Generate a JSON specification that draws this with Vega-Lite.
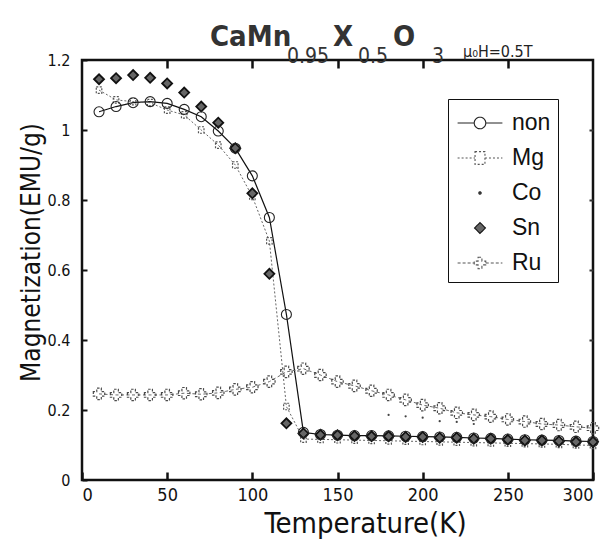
{
  "$schema": "https://vega.github.io/schema/vega-lite/v6.json",
  "width": 511,
  "height": 420,
  "autosize": {"type": "none"},
  "padding": {"left": 82, "top": 60, "right": 13, "bottom": 64},
  "background": "white",
  "config": {"view": {"stroke": "#111", "strokeWidth": 2.5}, "font": "DejaVu Sans Condensed, Liberation Sans, sans-serif"},
  "data": {"values": [
    {"series": "non", "T": 10, "M": 1.052}, {"series": "non", "T": 20, "M": 1.067}, {"series": "non", "T": 30, "M": 1.078}, {"series": "non", "T": 40, "M": 1.081}, {"series": "non", "T": 50, "M": 1.076}, {"series": "non", "T": 60, "M": 1.059}, {"series": "non", "T": 70, "M": 1.038}, {"series": "non", "T": 80, "M": 0.997}, {"series": "non", "T": 90, "M": 0.948}, {"series": "non", "T": 100, "M": 0.869}, {"series": "non", "T": 110, "M": 0.750}, {"series": "non", "T": 120, "M": 0.473}, {"series": "non", "T": 130, "M": 0.136}, {"series": "non", "T": 140, "M": 0.130}, {"series": "non", "T": 150, "M": 0.128}, {"series": "non", "T": 160, "M": 0.127}, {"series": "non", "T": 170, "M": 0.127}, {"series": "non", "T": 180, "M": 0.126}, {"series": "non", "T": 190, "M": 0.125}, {"series": "non", "T": 200, "M": 0.124}, {"series": "non", "T": 210, "M": 0.123}, {"series": "non", "T": 220, "M": 0.122}, {"series": "non", "T": 230, "M": 0.120}, {"series": "non", "T": 240, "M": 0.119}, {"series": "non", "T": 250, "M": 0.117}, {"series": "non", "T": 260, "M": 0.115}, {"series": "non", "T": 270, "M": 0.114}, {"series": "non", "T": 280, "M": 0.113}, {"series": "non", "T": 290, "M": 0.111}, {"series": "non", "T": 300, "M": 0.110},
    {"series": "Mg", "T": 10, "M": 1.114}, {"series": "Mg", "T": 20, "M": 1.086}, {"series": "Mg", "T": 30, "M": 1.081}, {"series": "Mg", "T": 40, "M": 1.078}, {"series": "Mg", "T": 50, "M": 1.057}, {"series": "Mg", "T": 60, "M": 1.043}, {"series": "Mg", "T": 70, "M": 1.000}, {"series": "Mg", "T": 80, "M": 0.957}, {"series": "Mg", "T": 90, "M": 0.900}, {"series": "Mg", "T": 100, "M": 0.810}, {"series": "Mg", "T": 110, "M": 0.683}, {"series": "Mg", "T": 120, "M": 0.210}, {"series": "Mg", "T": 130, "M": 0.117}, {"series": "Mg", "T": 140, "M": 0.116}, {"series": "Mg", "T": 150, "M": 0.115}, {"series": "Mg", "T": 160, "M": 0.114}, {"series": "Mg", "T": 170, "M": 0.113}, {"series": "Mg", "T": 180, "M": 0.112}, {"series": "Mg", "T": 190, "M": 0.111}, {"series": "Mg", "T": 200, "M": 0.110}, {"series": "Mg", "T": 210, "M": 0.109}, {"series": "Mg", "T": 220, "M": 0.108}, {"series": "Mg", "T": 230, "M": 0.107}, {"series": "Mg", "T": 240, "M": 0.106}, {"series": "Mg", "T": 250, "M": 0.105}, {"series": "Mg", "T": 260, "M": 0.104}, {"series": "Mg", "T": 270, "M": 0.103}, {"series": "Mg", "T": 280, "M": 0.102}, {"series": "Mg", "T": 290, "M": 0.100}, {"series": "Mg", "T": 300, "M": 0.099},
    {"series": "Co", "T": 180, "M": 0.186}, {"series": "Co", "T": 190, "M": 0.182}, {"series": "Co", "T": 200, "M": 0.178}, {"series": "Co", "T": 210, "M": 0.168}, {"series": "Co", "T": 220, "M": 0.166}, {"series": "Co", "T": 230, "M": 0.160},
    {"series": "Sn", "T": 10, "M": 1.145}, {"series": "Sn", "T": 20, "M": 1.148}, {"series": "Sn", "T": 30, "M": 1.157}, {"series": "Sn", "T": 40, "M": 1.149}, {"series": "Sn", "T": 50, "M": 1.133}, {"series": "Sn", "T": 60, "M": 1.107}, {"series": "Sn", "T": 70, "M": 1.067}, {"series": "Sn", "T": 80, "M": 1.021}, {"series": "Sn", "T": 90, "M": 0.948}, {"series": "Sn", "T": 100, "M": 0.819}, {"series": "Sn", "T": 110, "M": 0.589}, {"series": "Sn", "T": 120, "M": 0.162}, {"series": "Sn", "T": 130, "M": 0.133}, {"series": "Sn", "T": 140, "M": 0.129}, {"series": "Sn", "T": 150, "M": 0.128}, {"series": "Sn", "T": 160, "M": 0.126}, {"series": "Sn", "T": 170, "M": 0.125}, {"series": "Sn", "T": 180, "M": 0.125}, {"series": "Sn", "T": 190, "M": 0.123}, {"series": "Sn", "T": 200, "M": 0.123}, {"series": "Sn", "T": 210, "M": 0.121}, {"series": "Sn", "T": 220, "M": 0.121}, {"series": "Sn", "T": 230, "M": 0.118}, {"series": "Sn", "T": 240, "M": 0.118}, {"series": "Sn", "T": 250, "M": 0.115}, {"series": "Sn", "T": 260, "M": 0.113}, {"series": "Sn", "T": 270, "M": 0.113}, {"series": "Sn", "T": 280, "M": 0.111}, {"series": "Sn", "T": 290, "M": 0.109}, {"series": "Sn", "T": 300, "M": 0.109},
    {"series": "Ru", "T": 10, "M": 0.246}, {"series": "Ru", "T": 20, "M": 0.243}, {"series": "Ru", "T": 30, "M": 0.243}, {"series": "Ru", "T": 40, "M": 0.243}, {"series": "Ru", "T": 50, "M": 0.243}, {"series": "Ru", "T": 60, "M": 0.248}, {"series": "Ru", "T": 70, "M": 0.245}, {"series": "Ru", "T": 80, "M": 0.249}, {"series": "Ru", "T": 90, "M": 0.259}, {"series": "Ru", "T": 100, "M": 0.265}, {"series": "Ru", "T": 110, "M": 0.281}, {"series": "Ru", "T": 120, "M": 0.309}, {"series": "Ru", "T": 130, "M": 0.318}, {"series": "Ru", "T": 140, "M": 0.300}, {"series": "Ru", "T": 150, "M": 0.281}, {"series": "Ru", "T": 160, "M": 0.269}, {"series": "Ru", "T": 170, "M": 0.255}, {"series": "Ru", "T": 180, "M": 0.243}, {"series": "Ru", "T": 190, "M": 0.229}, {"series": "Ru", "T": 200, "M": 0.214}, {"series": "Ru", "T": 210, "M": 0.205}, {"series": "Ru", "T": 220, "M": 0.192}, {"series": "Ru", "T": 230, "M": 0.186}, {"series": "Ru", "T": 240, "M": 0.181}, {"series": "Ru", "T": 250, "M": 0.173}, {"series": "Ru", "T": 260, "M": 0.167}, {"series": "Ru", "T": 270, "M": 0.160}, {"series": "Ru", "T": 280, "M": 0.157}, {"series": "Ru", "T": 290, "M": 0.152}, {"series": "Ru", "T": 300, "M": 0.148}
  ]},
  "layer": [
    {
      "transform": [{"filter": "datum.series === 'non'"}],
      "mark": {"type": "line", "stroke": "#111", "strokeWidth": 1.2},
      "encoding": {
        "x": {"field": "T", "type": "quantitative", "scale": {"domain": [0, 300], "nice": false},
          "axis": {"values": [0, 50, 100, 150, 200, 250, 300], "domain": false, "grid": false, "tickSize": -8, "tickWidth": 2.5, "tickColor": "#111", "labelPadding": 14, "labelFontSize": 18, "labelColor": "#111", "labelFont": "DejaVu Sans Condensed, Liberation Sans, sans-serif", "title": "Temperature(K)", "titleFont": "DejaVu Sans Condensed, Liberation Sans, sans-serif", "titleFontSize": 29, "titleFontWeight": "normal", "titlePadding": 5, "titleColor": "#111", "titleX": 283}},
        "y": {"field": "M", "type": "quantitative", "scale": {"domain": [0, 1.2], "nice": false},
          "axis": {"values": [0, 0.2, 0.4, 0.6, 0.8, 1, 1.2], "format": ".1~f", "domain": false, "grid": false, "tickSize": -5, "tickWidth": 2, "tickColor": "#111", "labelPadding": 17, "labelFontSize": 16, "labelColor": "#111", "labelFont": "DejaVu Sans Condensed, Liberation Sans, sans-serif", "title": "Magnetization(EMU/g)", "titleFont": "DejaVu Sans Condensed, Liberation Sans, sans-serif", "titleFontSize": 26, "titleFontWeight": "normal", "titleColor": "#111", "titleBaseline": "middle", "titleX": -51, "titleY": 192}}
      }
    },
    {
      "mark": {"type": "point", "opacity": 0},
      "encoding": {
        "x": {"field": "T", "type": "quantitative", "scale": {"domain": [0, 300], "nice": false},
          "axis": {"orient": "top", "values": [50, 100, 150, 200, 250], "labels": false, "title": null, "domain": false, "grid": false, "tickSize": -8, "tickWidth": 2.5, "tickColor": "#111"}},
        "y": {"field": "M", "type": "quantitative", "scale": {"domain": [0, 1.2], "nice": false},
          "axis": {"orient": "right", "values": [0.2, 0.4, 0.6, 0.8, 1], "labels": false, "title": null, "domain": false, "grid": false, "tickSize": -4, "tickWidth": 2, "tickColor": "#333"}}
      }
    },
    {
      "transform": [{"filter": "datum.series === 'Mg'"}],
      "mark": {"type": "line", "stroke": "#666", "strokeWidth": 1, "strokeDash": [2, 2]},
      "encoding": {
        "x": {"field": "T", "type": "quantitative", "scale": {"domain": [0, 300], "nice": false}, "axis": null},
        "y": {"field": "M", "type": "quantitative", "scale": {"domain": [0, 1.2], "nice": false}, "axis": null}
      }
    },
    {
      "transform": [{"filter": "datum.series === 'Ru'"}],
      "mark": {"type": "line", "stroke": "#666", "strokeWidth": 1, "strokeDash": [3, 2.5]},
      "encoding": {
        "x": {"field": "T", "type": "quantitative", "scale": {"domain": [0, 300], "nice": false}, "axis": null},
        "y": {"field": "M", "type": "quantitative", "scale": {"domain": [0, 1.2], "nice": false}, "axis": null}
      }
    },
    {
      "transform": [{"filter": "datum.series === 'Co'"}],
      "mark": {"type": "point", "shape": "circle", "filled": true, "size": 5, "color": "#444", "opacity": 1},
      "encoding": {
        "x": {"field": "T", "type": "quantitative", "scale": {"domain": [0, 300], "nice": false}, "axis": null},
        "y": {"field": "M", "type": "quantitative", "scale": {"domain": [0, 1.2], "nice": false}, "axis": null}
      }
    },
    {
      "transform": [{"filter": "datum.series === 'Mg'"}],
      "mark": {"type": "point", "shape": "M-0.85,-1L0.85,-1L0.85,1L-0.85,1Z", "filled": false, "size": 42, "stroke": "#555", "strokeWidth": 1.2, "strokeDash": [2, 1.5], "opacity": 1},
      "encoding": {
        "x": {"field": "T", "type": "quantitative", "scale": {"domain": [0, 300], "nice": false}, "axis": null},
        "y": {"field": "M", "type": "quantitative", "scale": {"domain": [0, 1.2], "nice": false}, "axis": null}
      }
    },
    {
      "transform": [{"filter": "datum.series === 'Ru'"}],
      "mark": {"type": "point", "shape": "cross", "filled": false, "size": 130, "stroke": "#4a4a4a", "strokeWidth": 1.2, "strokeDash": [2.5, 1.5], "opacity": 1},
      "encoding": {
        "x": {"field": "T", "type": "quantitative", "scale": {"domain": [0, 300], "nice": false}, "axis": null},
        "y": {"field": "M", "type": "quantitative", "scale": {"domain": [0, 1.2], "nice": false}, "axis": null}
      }
    },
    {
      "transform": [{"filter": "datum.series === 'Sn'"}],
      "mark": {"type": "point", "shape": "diamond", "filled": true, "size": 100, "fill": "#666", "stroke": "#111", "strokeWidth": 1.8, "opacity": 1},
      "encoding": {
        "x": {"field": "T", "type": "quantitative", "scale": {"domain": [0, 300], "nice": false}, "axis": null},
        "y": {"field": "M", "type": "quantitative", "scale": {"domain": [0, 1.2], "nice": false}, "axis": null}
      }
    },
    {
      "transform": [{"filter": "datum.series === 'non'"}],
      "mark": {"type": "point", "shape": "circle", "filled": false, "size": 100, "stroke": "#222", "strokeWidth": 1.1, "opacity": 1},
      "encoding": {
        "x": {"field": "T", "type": "quantitative", "scale": {"domain": [0, 300], "nice": false}, "axis": null},
        "y": {"field": "M", "type": "quantitative", "scale": {"domain": [0, 1.2], "nice": false}, "axis": null}
      }
    },
    {
      "transform": [{"filter": "false"}],
      "mark": {"type": "point", "strokeWidth": 1.1},
      "encoding": {
        "x": {"field": "T", "type": "quantitative", "scale": {"domain": [0, 300], "nice": false}, "axis": null},
        "y": {"field": "M", "type": "quantitative", "scale": {"domain": [0, 1.2], "nice": false}, "axis": null},
        "shape": {"field": "series", "type": "nominal",
          "scale": {"domain": ["non", "Mg", "Co", "Sn", "Ru"], "range": [
            "M-1.4,0L-0.36,0M0.36,0L1.4,0M-0.36,0A0.36,0.36,0,1,1,0.36,0A0.36,0.36,0,1,1,-0.36,0",
            "M-1.4,0L-0.31,0M0.31,0L1.4,0M-0.31,-0.4L0.31,-0.4L0.31,0.4L-0.31,0.4Z",
            "M-0.075,0A0.075,0.075,0,1,1,0.075,0A0.075,0.075,0,1,1,-0.075,0",
            "M0,-0.34L0.34,0L0,0.34L-0.34,0Z",
            "M-1.4,0L-0.36,0M0.36,0L1.4,0M-0.12,-0.36L0.12,-0.36L0.12,-0.12L0.36,-0.12L0.36,0.12L0.12,0.12L0.12,0.36L-0.12,0.36L-0.12,0.12L-0.36,0.12L-0.36,-0.12L-0.12,-0.12Z"
          ]},
          "legend": {
            "orient": "none", "legendX": 366, "legendY": 39, "title": null,
            "symbolSize": 1024, "symbolOffset": 8, "labelOffset": 15, "rowPadding": 6, "padding": 7,
            "symbolOpacity": 1, "symbolStrokeWidth": 1.1,
            "fillColor": "white", "strokeColor": "#111",
            "labelFont": "Liberation Sans", "labelFontSize": 23, "labelColor": "#111",
            "encode": {"legend": {"strokeWidth": {"value": 1.5}}}
          }
        },
        "fill": {"field": "series", "type": "nominal",
          "scale": {"domain": ["non", "Mg", "Co", "Sn", "Ru"], "range": ["transparent", "transparent", "#333", "#666", "transparent"]}},
        "stroke": {"field": "series", "type": "nominal",
          "scale": {"domain": ["non", "Mg", "Co", "Sn", "Ru"], "range": ["#222", "#555", "#333", "#111", "#555"]}},
        "strokeDash": {"field": "series", "type": "nominal",
          "scale": {"domain": ["non", "Mg", "Co", "Sn", "Ru"], "range": [[1, 0], [2, 2], [1, 0], [1, 0], [3, 2]]}}
      }
    },
    {
      "data": {"values": [{}]},
      "mark": {"type": "text", "align": "left", "baseline": "alphabetic", "font": "DejaVu Sans Condensed, Liberation Sans, sans-serif", "fontSize": 29, "fontWeight": "bold", "color": "#333"},
      "encoding": {"text": {"value": "CaMn"},
        "x": {"datum": 75.1, "type": "quantitative", "scale": {"domain": [0, 300], "nice": false}, "axis": null},
        "y": {"datum": 1.24, "type": "quantitative", "scale": {"domain": [0, 1.2], "nice": false}, "axis": null}}
    },
    {
      "data": {"values": [{}]},
      "mark": {"type": "text", "align": "left", "baseline": "alphabetic", "font": "DejaVu Sans Condensed, Liberation Sans, sans-serif", "fontSize": 21, "color": "#333"},
      "encoding": {"text": {"value": "0.95"},
        "x": {"datum": 120.4, "type": "quantitative", "scale": {"domain": [0, 300], "nice": false}, "axis": null},
        "y": {"datum": 1.191, "type": "quantitative", "scale": {"domain": [0, 1.2], "nice": false}, "axis": null}}
    },
    {
      "data": {"values": [{}]},
      "mark": {"type": "text", "align": "left", "baseline": "alphabetic", "font": "DejaVu Sans Condensed, Liberation Sans, sans-serif", "fontSize": 29, "fontWeight": "bold", "color": "#333"},
      "encoding": {"text": {"value": "X"},
        "x": {"datum": 147.4, "type": "quantitative", "scale": {"domain": [0, 300], "nice": false}, "axis": null},
        "y": {"datum": 1.24, "type": "quantitative", "scale": {"domain": [0, 1.2], "nice": false}, "axis": null}}
    },
    {
      "data": {"values": [{}]},
      "mark": {"type": "text", "align": "left", "baseline": "alphabetic", "font": "DejaVu Sans Condensed, Liberation Sans, sans-serif", "fontSize": 21, "color": "#333"},
      "encoding": {"text": {"value": "0.5"},
        "x": {"datum": 162.0, "type": "quantitative", "scale": {"domain": [0, 300], "nice": false}, "axis": null},
        "y": {"datum": 1.191, "type": "quantitative", "scale": {"domain": [0, 1.2], "nice": false}, "axis": null}}
    },
    {
      "data": {"values": [{}]},
      "mark": {"type": "text", "align": "left", "baseline": "alphabetic", "font": "DejaVu Sans Condensed, Liberation Sans, sans-serif", "fontSize": 29, "fontWeight": "bold", "color": "#333"},
      "encoding": {"text": {"value": "O"},
        "x": {"datum": 182.6, "type": "quantitative", "scale": {"domain": [0, 300], "nice": false}, "axis": null},
        "y": {"datum": 1.24, "type": "quantitative", "scale": {"domain": [0, 1.2], "nice": false}, "axis": null}}
    },
    {
      "data": {"values": [{}]},
      "mark": {"type": "text", "align": "left", "baseline": "alphabetic", "font": "DejaVu Sans Condensed, Liberation Sans, sans-serif", "fontSize": 21, "color": "#333"},
      "encoding": {"text": {"value": "3"},
        "x": {"datum": 205.5, "type": "quantitative", "scale": {"domain": [0, 300], "nice": false}, "axis": null},
        "y": {"datum": 1.191, "type": "quantitative", "scale": {"domain": [0, 1.2], "nice": false}, "axis": null}}
    },
    {
      "data": {"values": [{}]},
      "mark": {"type": "text", "align": "left", "baseline": "alphabetic", "font": "DejaVu Sans Condensed, Liberation Sans, sans-serif", "fontSize": 16, "color": "#222"},
      "encoding": {"text": {"value": "μ₀H=0.5T"},
        "x": {"datum": 223.7, "type": "quantitative", "scale": {"domain": [0, 300], "nice": false}, "axis": null},
        "y": {"datum": 1.209, "type": "quantitative", "scale": {"domain": [0, 1.2], "nice": false}, "axis": null}}
    }
  ],
  "resolve": {"axis": {"x": "independent", "y": "independent"}}
}
